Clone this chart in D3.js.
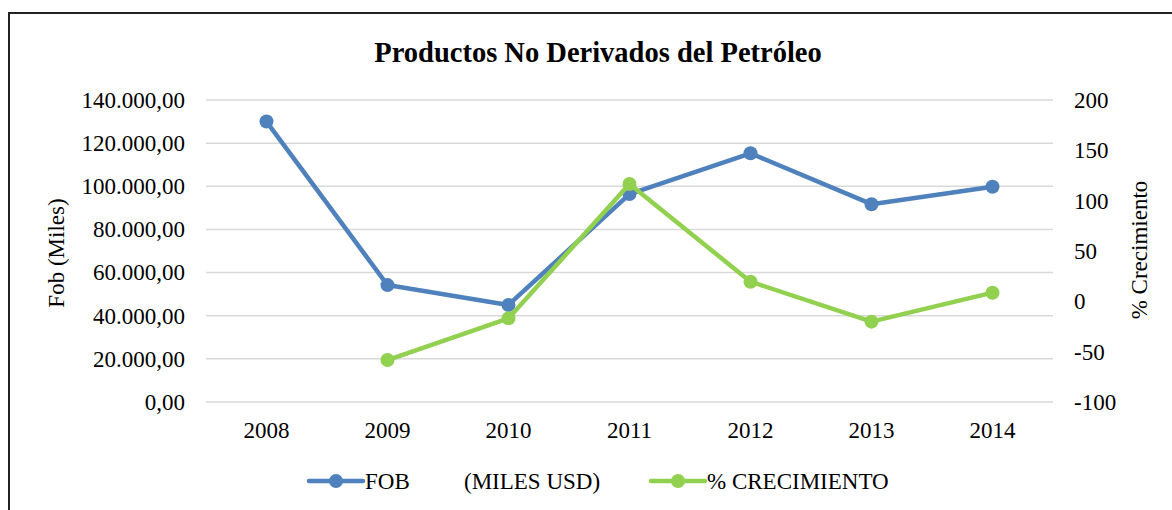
<!DOCTYPE html>
<html>
<head>
  <meta charset="utf-8">
  <script src="https://d3js.org/d3.v7.min.js"></script>
  <style>
    body { margin: 0; background: #fff; }
    text { font-family: "Liberation Serif", "Times New Roman", serif; fill: #000; }
  </style>
</head>
<body>
<script>
  // chart data
  var years = ["2008", "2009", "2010", "2011", "2012", "2013", "2014"];
  var fob = [130000, 54200, 45000, 96400, 115300, 91700, 99800];
  var growth = [null, -58.3, -16.9, 116.5, 19.5, -20.2, 8.6];
  var leftTicks = [0, 20000, 40000, 60000, 80000, 100000, 120000, 140000];
  var rightTicks = [-100, -50, 0, 50, 100, 150, 200];

  var W = 1172, H = 510;
  var plot = { left: 206, right: 1053, top: 100, bottom: 402 };
  var fs = "23px";

  var svg = d3.select("body").append("svg")
      .attr("width", W)
      .attr("height", H);

  // outer frame (only top/left edges fall inside the picture)
  svg.append("rect")
      .attr("x", 9).attr("y", 13)
      .attr("width", 1200).attr("height", 600)
      .attr("fill", "none")
      .attr("stroke", "#222")
      .attr("stroke-width", 2);

  var x = d3.scaleBand().domain(years).range([plot.left, plot.right]);
  var yL = d3.scaleLinear().domain([0, 140000]).range([plot.bottom, plot.top]);
  var yR = d3.scaleLinear().domain([-100, 200]).range([plot.bottom, plot.top]);

  var fmt = function(v) {
    return d3.format(",.2f")(v).replace(/,/g, "#").replace(".", ",").replace(/#/g, ".");
  };

  // gridlines
  svg.append("g").selectAll("line")
    .data(leftTicks).enter().append("line")
      .attr("x1", plot.left).attr("x2", plot.right)
      .attr("y1", function(d) { return yL(d); })
      .attr("y2", function(d) { return yL(d); })
      .attr("stroke", "#d9d9d9")
      .attr("stroke-width", 1.5);

  function styleAxis(g) {
    g.select(".domain").remove();
    g.attr("font-family", null).attr("font-size", null);
    g.selectAll("text").style("font-size", fs);
  }

  // left axis
  svg.append("g")
      .attr("transform", "translate(" + (plot.left - 21) + ",0)")
      .call(d3.axisLeft(yL).tickValues(leftTicks).tickFormat(fmt).tickSize(0).tickPadding(0))
      .call(styleAxis);

  // right axis
  svg.append("g")
      .attr("transform", "translate(" + (plot.right + 21) + ",0)")
      .call(d3.axisRight(yR).tickValues(rightTicks).tickFormat(function(d) { return String(d); })
            .tickSize(0).tickPadding(0))
      .call(styleAxis);

  // x axis
  svg.append("g")
      .attr("transform", "translate(0," + (plot.bottom + 20) + ")")
      .call(d3.axisBottom(x).tickSize(0).tickPadding(0))
      .call(styleAxis);

  // title
  svg.append("text")
      .attr("x", 598).attr("y", 62)
      .attr("text-anchor", "middle")
      .style("font-size", "28.5px")
      .style("font-weight", "bold")
      .text("Productos No Derivados del Petróleo");

  // axis titles
  svg.append("text")
      .attr("transform", "translate(64,253) rotate(-90)")
      .attr("text-anchor", "middle")
      .style("font-size", fs)
      .text("Fob (Miles)");

  svg.append("text")
      .attr("transform", "translate(1147,250) rotate(-90)")
      .attr("text-anchor", "middle")
      .style("font-size", fs)
      .text("% Crecimiento");

  var cx = function(i) { return x(years[i]) + x.bandwidth() / 2; };

  function series(values, scale, color) {
    var pts = values.map(function(v, i) { return { i: i, v: v }; })
                    .filter(function(d) { return d.v !== null; });
    var line = d3.line()
        .x(function(d) { return cx(d.i); })
        .y(function(d) { return scale(d.v); });
    svg.append("path")
        .datum(pts)
        .attr("d", line)
        .attr("fill", "none")
        .attr("stroke", color)
        .attr("stroke-width", 4.5)
        .attr("stroke-linejoin", "round");
    svg.append("g").selectAll("circle")
      .data(pts).enter().append("circle")
        .attr("cx", function(d) { return cx(d.i); })
        .attr("cy", function(d) { return scale(d.v); })
        .attr("r", 7)
        .attr("fill", color);
  }

  series(fob, yL, "#4f81bd");
  series(growth, yR, "#92d050");

  // legend
  function legendItem(x0, color, label) {
    var g = svg.append("g").attr("transform", "translate(" + x0 + ",481)");
    g.append("line").attr("x1", 0).attr("x2", 54)
      .attr("stroke", color).attr("stroke-width", 4.5).attr("stroke-linecap", "round");
    g.append("circle").attr("cx", 27).attr("r", 7).attr("fill", color);
    g.append("text").attr("x", 56).attr("y", 8)
      .style("font-size", fs)
      .text(label);
    return g;
  }
  legendItem(309, "#4f81bd", "FOB")
    .append("text").attr("x", 155).attr("y", 8)
      .style("font-size", fs)
      .text("(MILES USD)");
  legendItem(651, "#92d050", "% CRECIMIENTO");
</script>
</body>
</html>
